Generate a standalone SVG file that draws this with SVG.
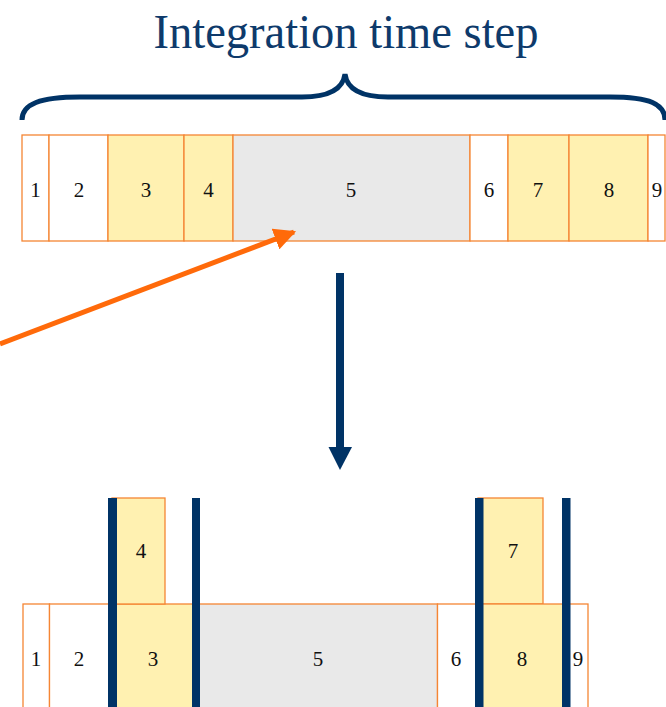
<svg xmlns="http://www.w3.org/2000/svg" width="666" height="707" viewBox="0 0 666 707">
  <style>
    .cell { stroke: #F58634; stroke-width: 1.3; }
    .w { fill: #FFFFFF; }
    .y { fill: #FFF1B1; }
    .g { fill: #E9E9E9; }
    .num { font-family: "Liberation Serif", "Times New Roman", serif; font-size: 21px; fill: #111111; text-anchor: middle; }
    .sync { fill: #003366; }
  </style>
  <defs>
    <marker id="headOrange" viewBox="0 0 10 10" refX="9" refY="5" markerWidth="4.4" markerHeight="4.4" orient="auto" markerUnits="strokeWidth">
      <path d="M0,0 L10,5 L0,10 z" fill="#FF6A0A"/>
    </marker>
  </defs>

  <!-- title and brace -->
  <g id="title">
    <text x="346" y="48" font-family="'Liberation Serif', 'Times New Roman', serif" font-size="48" fill="#0E3A6B" text-anchor="middle" textLength="385" lengthAdjust="spacingAndGlyphs">Integration time step</text>
  </g>
  <g id="brace">
    <path d="M22,120 C22,104 40,97 80,97 L302,97 C330,97 343,89 345,74 C347,89 360,97 388,97 L610,97 C650,97 665,104 665,120" fill="none" stroke="#003366" stroke-width="5"/>
  </g>

  <!-- upper timeline -->
  <g id="top-1"><rect class="cell w" x="22" y="135" width="27" height="106"/><text class="num" x="35.5" y="197">1</text></g>
  <g id="top-2"><rect class="cell w" x="49" y="135" width="59" height="106"/><text class="num" x="79" y="197">2</text></g>
  <g id="top-3"><rect class="cell y" x="108" y="135" width="76" height="106"/><text class="num" x="146" y="197">3</text></g>
  <g id="top-4"><rect class="cell y" x="184" y="135" width="49" height="106"/><text class="num" x="208.5" y="197">4</text></g>
  <g id="top-5"><rect class="cell g" x="233" y="135" width="237" height="106"/><text class="num" x="351" y="197">5</text></g>
  <g id="top-6"><rect class="cell w" x="470" y="135" width="38" height="106"/><text class="num" x="489" y="197">6</text></g>
  <g id="top-7"><rect class="cell y" x="508" y="135" width="61" height="106"/><text class="num" x="538" y="197">7</text></g>
  <g id="top-8"><rect class="cell y" x="569" y="135" width="79" height="106"/><text class="num" x="609" y="197">8</text></g>
  <g id="top-9"><rect class="cell w" x="648" y="135" width="17" height="106"/><text class="num" x="657" y="197">9</text></g>

  <!-- lower timeline -->
  <g id="bot-1"><rect class="cell w" x="23" y="604" width="26.5" height="110"/><text class="num" x="36" y="666">1</text></g>
  <g id="bot-2"><rect class="cell w" x="49.5" y="604" width="60" height="110"/><text class="num" x="79" y="666">2</text></g>
  <g id="bot-3"><rect class="cell y" x="112" y="604" width="84" height="110"/><text class="num" x="153" y="666">3</text></g>
  <g id="bot-4"><rect class="cell y" x="112" y="498" width="53" height="106"/><text class="num" x="141" y="558">4</text></g>
  <g id="bot-5"><rect class="cell g" x="196" y="604" width="241.5" height="110"/><text class="num" x="318" y="666">5</text></g>
  <g id="bot-6"><rect class="cell w" x="437.5" y="604" width="41" height="110"/><text class="num" x="456" y="666">6</text></g>
  <g id="bot-7"><rect class="cell y" x="478" y="498" width="65" height="106"/><text class="num" x="513" y="558">7</text></g>
  <g id="bot-8"><rect class="cell y" x="478" y="604" width="88" height="110"/><text class="num" x="522" y="666">8</text></g>
  <g id="bot-9"><rect class="cell w" x="566" y="604" width="22" height="110"/><text class="num" x="578" y="666">9</text></g>

  <!-- synchronisation bars -->
  <g id="sync-bars">
    <rect class="sync" x="108" y="498" width="9" height="209"/>
    <rect class="sync" x="192" y="498" width="8" height="209"/>
    <rect class="sync" x="475" y="498" width="8.5" height="209"/>
    <rect class="sync" x="562" y="498" width="8.5" height="209"/>
  </g>

  <!-- connectors -->
  <g id="connectors">
    <line x1="0" y1="344" x2="294" y2="232" stroke="#FF6A0A" stroke-width="5" marker-end="url(#headOrange)"/>
    <rect x="336" y="273" width="8" height="176" fill="#003366"/>
    <path d="M328.5,447 L352,447 L340,470 z" fill="#003366"/>
  </g>
</svg>
